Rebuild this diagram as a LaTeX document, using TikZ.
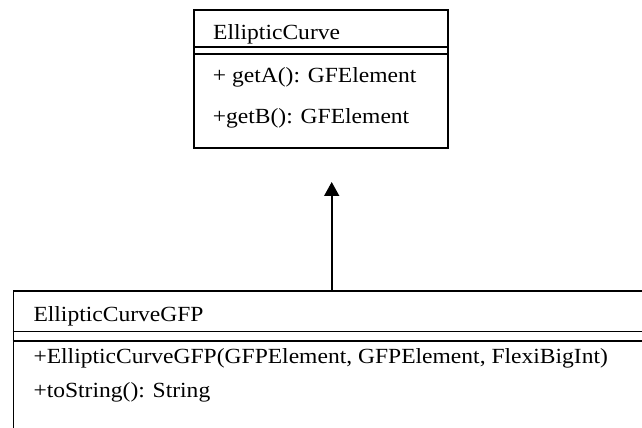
\documentclass[tikz,border=0pt]{standalone}
\usepackage{fontspec}
\setmainfont[FakeStretch=1.09]{Liberation Serif}
\usetikzlibrary{arrows.meta}
\begin{document}
\begin{tikzpicture}[x=1pt,y=1pt,
  classbox/.style={draw=black,line width=1.6pt,rectangle,inner sep=0pt},
  member/.style={anchor=base west,inner sep=0pt,font=\fontsize{21.6}{26}\selectfont},
  sepline/.style={line width=1.6pt},
  inherit/.style={line width=1.6pt,-{Triangle[length=14pt,width=15pt]}}]
\useasboundingbox (0,0) rectangle (642,428);
\clip (0,0) rectangle (642,428);
% superclass
\node[classbox,anchor=north west,minimum width=254pt,minimum height=138pt] (base) at (193,419) {};
\draw[sepline] (base.west |- 0,381) -- (base.east |- 0,381);
\draw[sepline] (base.west |- 0,374) -- (base.east |- 0,374);
\node[member] (basename) at (213,388) {EllipticCurve};
\node[member] (geta) at (212.7,345.3) {+ getA(): GFElement};
\node[member] (getb) at (212.7,304.7) {+getB(): GFElement};
% subclass, running past the right and bottom edges
\node[classbox,anchor=north west,minimum width=700pt,minimum height=200pt] (sub) at (12.5,138) {};
\draw[sepline] (sub.west |- 0,96.3) -- (sub.east |- 0,96.3);
\draw[sepline] (sub.west |- 0,87) -- (sub.east |- 0,87);
\node[member] (subname) at (33.3,106.3) {EllipticCurveGFP};
\node[member] (ctor) at (33.3,64) {+EllipticCurveGFP(GFPElement, GFPElement, FlexiBigInt)};
\node[member] (tostr) at (33.3,30.5) {+toString(): String};
% generalisation arrow
\coordinate (tip) at (331.7,246);
\draw[inherit] (sub.north -| tip) -- (tip);
\end{tikzpicture}
\end{document}
